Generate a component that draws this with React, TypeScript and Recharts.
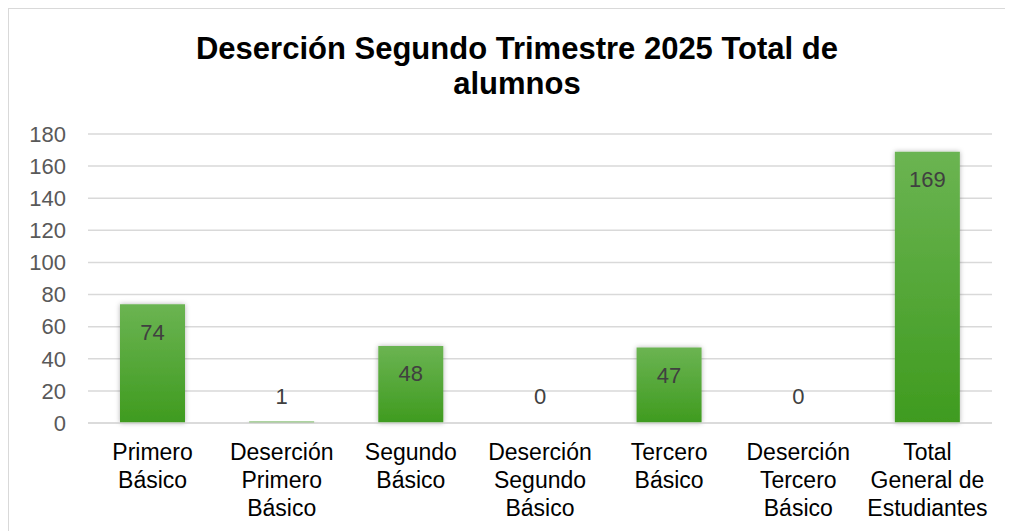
import React from 'react';
import { BarChart, Bar, XAxis, YAxis, CartesianGrid, LabelList } from 'recharts';

const categories = [
  'Primero Básico',
  'Deserción Primero Básico',
  'Segundo Básico',
  'Deserción Segundo Básico',
  'Tercero Básico',
  'Deserción Tercero Básico',
  'Total General de Estudiantes',
];
const alumnos = [74, 1, 48, 0, 47, 0, 169];
const yTicks = [0, 20, 40, 60, 80, 100, 120, 140, 160, 180];

const data = categories.map((name, i) => ({ name, value: alumnos[i] }));

const FONT = 'Arial, "Liberation Sans", sans-serif';
const LABEL_COLOR = '#404040';
const LABEL_SIZE = 22;

function wrap(label: string, max = 11): string[] {
  const lines: string[] = [];
  let cur = '';
  for (const w of label.split(' ')) {
    const next = cur ? cur + ' ' + w : w;
    if (next.length > max && cur) {
      lines.push(cur);
      cur = w;
    } else {
      cur = next;
    }
  }
  if (cur) lines.push(cur);
  return lines;
}

// category tick; also draws the "0" label, since zero-height bars get no label
function CategoryTick(props: any) {
  const { x, y, payload, index } = props;
  const lines = wrap(String(payload.value));
  const v = alumnos[index];
  return (
    <g>
      <text x={x} y={y} textAnchor="middle" fill="#000" fontSize={23} fontFamily={FONT}>
        {lines.map((line, i) => (
          <tspan key={i} x={x} dy={i === 0 ? 29 : 28}>
            {line}
          </tspan>
        ))}
      </text>
      {v === 0 && (
        <text
          x={x}
          y={y - 35}
          textAnchor="middle"
          dominantBaseline="central"
          fill={LABEL_COLOR}
          fontSize={LABEL_SIZE}
          fontFamily={FONT}
        >
          {v}
        </text>
      )}
    </g>
  );
}

function ValueLabel(props: any) {
  const { x, y, width, height, value } = props;
  const inside = height > 40;
  const cy = inside ? y + 28 : y + height - 27;
  return (
    <text
      x={x + width / 2}
      y={cy}
      textAnchor="middle"
      dominantBaseline="central"
      fill={LABEL_COLOR}
      fontSize={LABEL_SIZE}
      fontFamily={FONT}
    >
      {value}
    </text>
  );
}

export default function App() {
  return (
    <div
      style={{
        position: 'relative',
        width: 1004,
        height: 522,
        borderTop: '1px solid #d9d9d9',
        borderLeft: '1px solid #d9d9d9',
        background: '#fff',
        fontFamily: FONT,
      }}
    >
      <div
        style={{
          position: 'absolute',
          top: 22,
          left: 12,
          right: 0,
          textAlign: 'center',
          fontSize: 31,
          lineHeight: '35px',
          fontWeight: 'bold',
          color: '#000',
        }}
      >
        Deserción Segundo Trimestre 2025 Total de
        <br />
        alumnos
      </div>
      <BarChart
        width={1003}
        height={521}
        data={data}
        margin={{ top: 125, right: 20, left: 0, bottom: 7 }}
      >
        <defs>
          <linearGradient id="barFill" x1="0" y1="0" x2="0" y2="1">
            <stop offset="0%" stopColor="#6bb452" />
            <stop offset="100%" stopColor="#3f9b1f" />
          </linearGradient>
          <filter id="barShadow" x="-20%" y="-20%" width="140%" height="140%">
            <feDropShadow dx="0" dy="0" stdDeviation="2.5" floodColor="#000" floodOpacity="0.3" />
          </filter>
        </defs>
        <CartesianGrid vertical={false} stroke="#d9d9d9" strokeWidth={1.5} />
        <XAxis
          dataKey="name"
          axisLine={{ stroke: '#d9d9d9', strokeWidth: 1.5 }}
          tickLine={false}
          height={100}
          interval={0}
          tick={<CategoryTick />}
        />
        <YAxis
          domain={[0, 180]}
          ticks={yTicks}
          width={79}
          axisLine={false}
          tickLine={false}
          tickSize={0}
          tickMargin={22}
          tick={{ fill: '#595959', fontSize: 22, fontFamily: FONT }}
        />
        <Bar
          dataKey="value"
          barSize={65}
          fill="url(#barFill)"
          filter="url(#barShadow)"
          isAnimationActive={false}
        >
          <LabelList dataKey="value" content={<ValueLabel />} />
        </Bar>
      </BarChart>
    </div>
  );
}
